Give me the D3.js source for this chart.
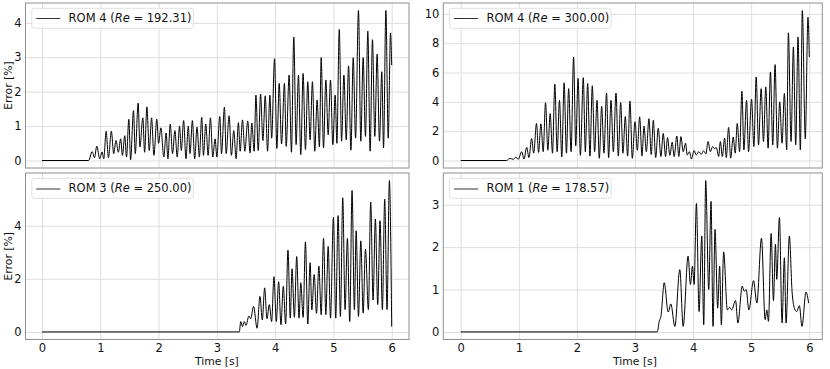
<!DOCTYPE html>
<html>
<head>
<meta charset="utf-8">
<script src="https://cdn.jsdelivr.net/npm/d3@7"></script>
<style>
  body { margin: 0; background: #fff; }
  svg { font-family: "DejaVu Sans", sans-serif; }
</style>
</head>
<body>
<svg id="chart" width="830" height="369"></svg>
<script>
// Error of each ROM against the full model, [time in s, error in %]
// (peaks and troughs)

// ROM 4, Re = 192.31
var rom4Re192 = [
  [0,0],[0.80,0],[0.86,0.26],[0.90,0.08],[0.94,0.42],[0.99,0.05],[1.03,0.25],[1.06,0.05],
  [1.10,0.85],[1.14,0.08],[1.19,0.85],[1.23,0.2],[1.27,0.58],[1.31,0.24],[1.35,0.63],[1.38,0.15],
  [1.42,0.72],[1.45,0.1],[1.49,1.2],[1.52,0.02],[1.57,1.45],[1.60,0.2],[1.65,1.67],[1.68,0.39],
  [1.73,1.24],[1.76,0.24],[1.80,1.56],[1.84,0.29],[1.88,1.24],[1.92,0.15],[1.97,1.2],[2.00,0.5],
  [2.04,0.95],[2.09,0.1],[2.13,0.8],[2.16,0.05],[2.20,1.06],[2.24,0.2],[2.28,0.87],[2.32,0.1],
  [2.36,1.0],[2.39,0.29],[2.43,1.16],[2.47,0.05],[2.51,1.0],[2.54,0.2],[2.58,1.16],[2.62,0.05],
  [2.66,0.97],[2.70,0.1],[2.74,1.26],[2.77,0.15],[2.81,1.06],[2.85,0.15],[2.89,1.24],[2.93,0.1],
  [2.97,0.63],[3.00,0.1],[3.05,1.28],[3.08,0.2],[3.13,1.55],[3.16,0.2],[3.21,1.3],[3.25,0.15],
  [3.29,0.87],[3.33,0.05],[3.37,1.1],[3.40,0.27],[3.44,1.18],[3.48,0.27],[3.53,1.15],[3.57,0.22],
  [3.60,1.09],[3.64,0.27],[3.67,1.9],[3.71,0.29],[3.75,1.93],[3.79,0.58],[3.83,1.88],[3.87,0.27],
  [3.91,1.9],[3.94,0.65],[3.99,2.96],[4.03,0.35],[4.07,2.24],[4.11,0.48],[4.16,2.24],[4.19,0.41],
  [4.24,2.48],[4.28,0.24],[4.32,3.59],[4.36,0.46],[4.40,2.48],[4.44,0.17],[4.48,2.53],[4.52,0.32],
  [4.56,2.29],[4.60,0.6],[4.64,2.29],[4.68,0.27],[4.72,1.76],[4.76,0.4],[4.79,2.99],[4.83,0.37],
  [4.87,2.34],[4.91,0.75],[4.95,2.34],[4.99,0.46],[5.03,1.9],[5.06,0.5],[5.10,3.81],[5.14,0.56],
  [5.18,2.48],[5.22,0.6],[5.26,2.75],[5.30,0.3],[5.34,2.99],[5.38,0.65],[5.43,4.36],[5.47,0.56],
  [5.51,2.99],[5.55,0.7],[5.59,3.76],[5.63,0.27],[5.67,3.51],[5.71,0.7],[5.75,3.09],[5.79,0.56],
  [5.83,2.58],[5.86,0.37],[5.90,4.36],[5.94,0.65],[5.98,3.71],[6.00,2.77]
];

// ROM 4, Re = 300.00
var rom4Re300 = [
  [0,0],[0.79,0],[0.85,0.15],[0.90,0.08],[0.95,0.22],[0.99,0.08],[1.05,0.6],[1.09,0.1],
  [1.135,0.9],[1.175,0.2],[1.22,1.5],[1.256,0.5],[1.305,2.53],[1.34,0.55],[1.38,2.5],[1.42,0.6],
  [1.46,3.94],[1.50,0.7],[1.54,3.2],[1.58,0.5],[1.62,5.2],[1.66,0.6],[1.70,4.1],[1.74,0.25],
  [1.78,5.3],[1.82,0.5],[1.858,4.9],[1.90,0.6],[1.943,7.05],[1.98,1.0],[2.02,5.6],[2.06,0.35],
  [2.11,5.65],[2.145,0.6],[2.185,5.25],[2.225,0.3],[2.265,5.1],[2.305,0.6],[2.346,4.1],[2.386,0.15],
  [2.426,3.7],[2.466,0.5],[2.51,4.6],[2.546,0.2],[2.587,4.1],[2.627,0.6],[2.673,4.6],[2.713,0.3],
  [2.753,3.95],[2.793,0.5],[2.833,3.0],[2.873,0.3],[2.913,4.05],[2.954,0.15],[3.00,2.64],[3.04,0.7],
  [3.08,2.98],[3.12,0.3],[3.155,2.35],[3.195,0.6],[3.24,2.85],[3.28,0.4],[3.315,2.75],[3.356,0.2],
  [3.40,2.2],[3.446,0.27],[3.486,1.85],[3.526,0.27],[3.56,1.56],[3.60,0.35],[3.64,1.24],[3.674,0.27],
  [3.72,1.67],[3.754,0.27],[3.79,1.63],[3.83,0.6],[3.87,1.18],[3.90,0.38],[3.937,0.6],[3.97,0.1],
  [4.017,0.68],[4.057,0.38],[4.097,0.6],[4.143,0.43],[4.18,0.66],[4.22,0.45],[4.257,1.29],[4.297,0.6],
  [4.337,0.95],[4.371,0.8],[4.40,0.88],[4.44,0.27],[4.469,1.29],[4.503,0.27],[4.543,1.52],[4.571,0.2],
  [4.611,2.26],[4.646,0.16],[4.69,1.6],[4.725,0.5],[4.76,2.53],[4.80,0.6],[4.84,4.73],[4.874,0.72],
  [4.92,4.1],[4.954,0.6],[5.006,4.19],[5.046,0.95],[5.086,5.7],[5.126,1.06],[5.171,4.9],[5.211,1.29],
  [5.251,5.02],[5.291,0.84],[5.331,6.04],[5.371,1.06],[5.411,6.54],[5.451,0.84],[5.491,4.0],[5.531,1.18],
  [5.571,4.57],[5.611,0.72],[5.64,8.71],[5.686,1.29],[5.726,7.74],[5.766,1.06],[5.806,8.42],[5.846,0.72],
  [5.88,10.23],[5.931,1.47],[5.977,9.77],[6.00,7.06]
];

// ROM 3, Re = 250.00
var rom3Re250 = [
  [0,0],[3.385,0],[3.41,0.39],[3.44,0.2],[3.47,0.39],[3.50,0.25],[3.55,0.6],[3.58,0.5],
  [3.63,0.96],[3.69,0.14],[3.74,1.34],[3.78,0.45],[3.82,1.66],[3.86,0.5],[3.90,1.03],[3.94,0.39],
  [3.98,2.08],[4.02,0.39],[4.06,1.89],[4.10,0.27],[4.14,1.72],[4.18,0.3],[4.22,3.08],[4.26,0.52],
  [4.29,2.38],[4.33,0.55],[4.37,2.84],[4.41,0.52],[4.44,1.85],[4.48,0.55],[4.52,3.39],[4.56,0.3],
  [4.60,2.61],[4.63,0.83],[4.67,2.16],[4.71,0.7],[4.75,2.48],[4.79,0.65],[4.83,3.52],[4.87,0.65],
  [4.91,3.22],[4.95,0.52],[5.00,4.32],[5.04,0.52],[5.08,4.38],[5.12,0.58],[5.16,5.05],[5.20,0.84],
  [5.24,3.52],[5.28,0.39],[5.32,5.33],[5.36,0.84],[5.39,3.81],[5.43,0.58],[5.47,3.43],[5.51,0.71],
  [5.55,3.11],[5.60,0.84],[5.64,4.89],[5.68,1.2],[5.72,4.25],[5.76,1.03],[5.80,4.19],[5.84,0.84],
  [5.88,5.0],[5.92,0.84],[5.96,5.7],[6.00,0.2]
];

// ROM 1, Re = 178.57
var rom1Re178 = [
  [0,0],[3.383,0],[3.417,0.25],[3.446,0.36],[3.503,1.16],[3.571,0.47],[3.617,0.66],[3.686,0.13],
  [3.771,1.47],[3.829,0.13],[3.914,1.79],[3.954,1.12],[3.989,1.55],[4.017,1.12],[4.057,3.03],[4.103,0.48],
  [4.149,2.26],[4.183,0.17],[4.217,3.57],[4.269,1.0],[4.309,3.08],[4.343,0.13],[4.377,2.42],[4.423,0.56],
  [4.457,1.55],[4.486,0.17],[4.526,1.89],[4.589,0.52],[4.629,0.58],[4.663,0.52],[4.731,0.74],[4.771,0.21],
  [4.846,1.08],[4.88,0.96],[4.914,1.0],[4.96,0.52],[5.04,1.21],[5.097,0.68],[5.177,2.21],[5.24,0.29],
  [5.269,0.52],[5.297,0.25],[5.343,2.32],[5.383,0.74],[5.417,2.07],[5.44,1.24],[5.486,2.7],[5.531,0.21],
  [5.571,1.75],[5.6,0.21],[5.657,2.26],[5.703,0.96],[5.743,0.56],[5.783,0.48],[5.829,0.62],[5.874,0.13],
  [5.943,0.94],[5.989,0.68]
];

// Tick labels
var timeTicks = [0, 1, 2, 3, 4, 5, 6];
var errTicksA = [0, 1, 2, 3, 4];
var errTicksB = [0, 2, 4, 6, 8, 10];
var errTicksC = [0, 2, 4];
var errTicksD = [0, 1, 2, 3];

// Legend names
var romNames = ['ROM 4', 'ROM 4', 'ROM 3', 'ROM 1'];
var reValues = ['192.31', '300.00', '250.00', '178.57'];

// Layout of the four axes (frame in pixels, where t=0 and t=6 fall)
var panels = [
  {data: rom4Re192, ticks: errTicksA, box: [25.5, 3, 409, 168], t0: 42, t6: 391.7, ylab: true, xlab: false},
  {data: rom4Re300, ticks: errTicksB, box: [443.3, 3, 822.3, 168], t0: 460.7, t6: 809.3, ylab: false, xlab: false},
  {data: rom3Re250, ticks: errTicksC, box: [25.5, 173, 409, 339.5], t0: 42, t6: 391.7, ylab: true, xlab: true},
  {data: rom1Re178, ticks: errTicksD, box: [443.3, 173, 822.3, 339.5], t0: 460.7, t6: 809.3, ylab: false, xlab: true}
];

var svg = d3.select('#chart');
var fmt = d3.format('d');

panels.forEach(function(p, i) {
  var left = p.box[0], top = p.box[1], right = p.box[2], bottom = p.box[3];

  var x = d3.scaleLinear()
              .domain([timeTicks[0], timeTicks[timeTicks.length - 1]])
              .range([p.t0, p.t6]);

  // matplotlib style 5% margin around the data
  var ext = d3.extent(p.data, function(d) {return d[1]});
  var pad = (ext[1] - ext[0]) * 0.05;
  var y = d3.scaleLinear()
              .domain([ext[0] - pad, ext[1] + pad])
              .range([bottom, top]);

  var g = svg.append('g');

  // grid
  g.append('g')
      .attr('transform', 'translate(0,' + bottom + ')')
      .call(d3.axisBottom(x).tickValues(timeTicks).tickSize(-(bottom - top)).tickFormat(''))
      .call(function(a) {a.select('.domain').remove()})
      .selectAll('line').attr('stroke', '#dedede').attr('stroke-width', 1);

  g.append('g')
      .attr('transform', 'translate(' + left + ',0)')
      .call(d3.axisLeft(y).tickValues(p.ticks).tickSize(-(right - left)).tickFormat(''))
      .call(function(a) {a.select('.domain').remove()})
      .selectAll('line').attr('stroke', '#dedede').attr('stroke-width', 1);

  // tick labels
  g.append('g')
      .attr('transform', 'translate(' + left + ',0)')
      .call(d3.axisLeft(y).tickValues(p.ticks).tickFormat(fmt).tickSize(0).tickPadding(4))
      .call(function(a) {a.select('.domain').remove()})
      .selectAll('text')
        .attr('font-family', '"DejaVu Sans", sans-serif')
        .attr('font-size', 11.5)
        .attr('fill', '#111');

  if (p.xlab) {
    g.append('g')
        .attr('transform', 'translate(0,' + bottom + ')')
        .call(d3.axisBottom(x).tickValues(timeTicks).tickFormat(fmt).tickSize(0).tickPadding(4.5))
        .call(function(a) {a.select('.domain').remove()})
        .selectAll('text')
          .attr('font-family', '"DejaVu Sans", sans-serif')
          .attr('font-size', 11.5)
          .attr('fill', '#111');

    g.append('text')
        .attr('x', x(3))
        .attr('y', 364.5)
        .attr('text-anchor', 'middle')
        .attr('font-size', 10.8)
        .attr('fill', '#111')
        .text('Time [s]');
  }

  if (p.ylab) {
    g.append('text')
        .attr('transform', 'translate(11.5,' + ((top + bottom) / 2) + ') rotate(-90)')
        .attr('text-anchor', 'middle')
        .attr('font-size', 10.8)
        .attr('fill', '#111')
        .text('Error [%]');
  }

  // the error curve
  var line = d3.line()
                .x(function(d) {return x(d[0])})
                .y(function(d) {return y(d[1])})
                .curve(d3.curveMonotoneX);

  g.append('path')
      .datum(p.data)
      .attr('d', line)
      .attr('fill', 'none')
      .attr('stroke', '#000')
      .attr('stroke-width', 1);

  // frame
  g.append('rect')
      .attr('x', left)
      .attr('y', top)
      .attr('width', right - left)
      .attr('height', bottom - top)
      .attr('fill', 'none')
      .attr('stroke', '#8f8f8f')
      .attr('stroke-width', 1);

  // legend
  var lg = g.append('g')
              .attr('transform', 'translate(' + (left + 6.3) + ',' + (top + 5.3) + ')');

  lg.append('rect')
      .attr('width', 161.5)
      .attr('height', 20)
      .attr('rx', 2.5)
      .attr('fill', '#fff')
      .attr('fill-opacity', 0.8)
      .attr('stroke', '#e0e0e0')
      .attr('stroke-width', 1);

  lg.append('line')
      .attr('x1', 4.5)
      .attr('x2', 28.5)
      .attr('y1', i < 2 ? 10.2 : 10.7)
      .attr('y2', i < 2 ? 10.2 : 10.7)
      .attr('stroke', '#333')
      .attr('stroke-width', 1);

  var lt = lg.append('text')
              .attr('x', 36.8)
              .attr('y', 13.8)
              .attr('font-size', 11.5)
              .attr('fill', '#111');
  lt.append('tspan').text(romNames[i] + ' (');
  lt.append('tspan').attr('font-style', 'italic').text('Re');
  lt.append('tspan').text(' = ' + reValues[i] + ')');
});
</script>
</body>
</html>
